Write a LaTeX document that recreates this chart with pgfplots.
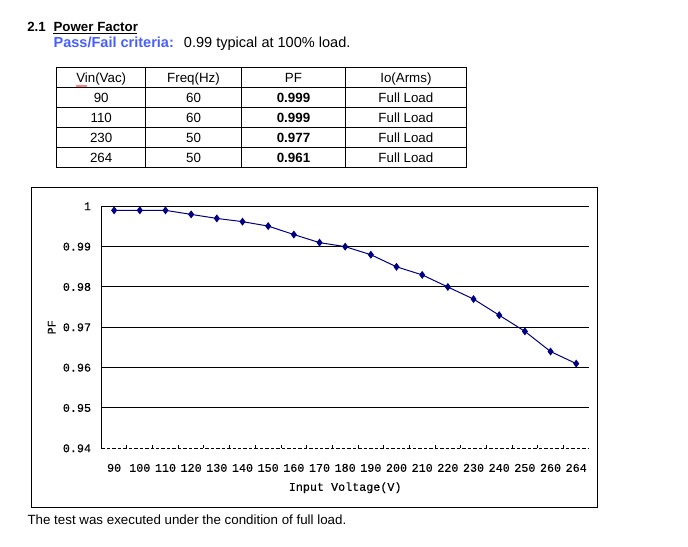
\documentclass[border=0pt]{standalone}
\usepackage{pgfplots}
\pgfplotsset{compat=1.18}
\usepackage{fontspec}
\setmainfont{Liberation Sans}
\newfontfamily\monofont[FakeBold=0.3]{Liberation Mono}
\newcommand\chartfont{\monofont\fontsize{8.8}{10}\selectfont}
\definecolor{navy}{RGB}{0,0,128}
\definecolor{passblue}{RGB}{72,96,250}
\pgfplotstableread{
x y
0 0.999
1 0.999
2 0.999
3 0.998
4 0.997
5 0.9962
6 0.9951
7 0.993
8 0.991
9 0.990
10 0.988
11 0.985
12 0.983
13 0.980
14 0.977
15 0.973
16 0.969
17 0.964
18 0.961
}\pfdata
\begin{document}
\begin{tikzpicture}
\begin{scope}[x=0.75pt,y=-0.75pt]
\useasboundingbox (0,0) rectangle (688,546);
\fill[white] (0,0) rectangle (688,546);
% heading
\node[anchor=base west, inner sep=0pt, font=\fontsize{10}{12}\selectfont\bfseries] at (27,31.7) {2.1};
\node[anchor=base west, inner sep=0pt, font=\fontsize{10}{12}\selectfont\bfseries] at (53.3,31.7) {Power Factor};
\draw[line width=0.75pt] (53.3,33.6) -- (136.7,33.6);
\node[anchor=base west, inner sep=0pt, font=\fontsize{10.9}{12}\selectfont\bfseries, text=passblue] at (53.3,47.7) {Pass/Fail criteria:};
\node[anchor=base west, inner sep=0pt, font=\fontsize{10.9}{12}\selectfont] at (183.7,47.7) {0.99 typical at 100\% load.};
% table
\begin{scope}[line width=0.75pt]
\draw (56.7,67.7) rectangle (466,167.7);
\foreach \yy in {87.7,107.7,127.7,147.7} \draw (56.7,\yy) -- (466,\yy);
\foreach \xx in {145.7,241.3,345.7} \draw (\xx,67.7) -- (\xx,167.7);
\end{scope}
\begin{scope}[every node/.style={anchor=base, inner sep=0pt, font=\fontsize{10}{12}\selectfont}]
\node at (101.2,82.4) {Vin(Vac)};
\node at (193.5,82.4) {Freq(Hz)};
\node at (293.5,82.4) {PF};
\node at (405.9,82.4) {Io(Arms)};
\node at (101.2,102.4) {90};  \node at (193.5,102.4) {60}; \node[font=\fontsize{10}{12}\selectfont\bfseries] at (293.5,102.4) {0.999}; \node at (405.9,102.4) {Full Load};
\node at (101.2,122.4) {110}; \node at (193.5,122.4) {60}; \node[font=\fontsize{10}{12}\selectfont\bfseries] at (293.5,122.4) {0.999}; \node at (405.9,122.4) {Full Load};
\node at (101.2,142.4) {230}; \node at (193.5,142.4) {50}; \node[font=\fontsize{10}{12}\selectfont\bfseries] at (293.5,142.4) {0.977}; \node at (405.9,142.4) {Full Load};
\node at (101.2,162.4) {264}; \node at (193.5,162.4) {50}; \node[font=\fontsize{10}{12}\selectfont\bfseries] at (293.5,162.4) {0.961}; \node at (405.9,162.4) {Full Load};
\end{scope}
\draw[red, line width=0.5pt] (76,85.5) -- (77,86.5) -- (78,85.5) -- (79,86.5) -- (80,85.5) -- (81,86.5) -- (82,85.5) -- (83,86.5) -- (84,85.5) -- (85,86.5) -- (86,85.5) -- (87,86.5);
% chart frame
\draw[line width=0.75pt] (31,187.5) rectangle (597.5,507.3);
% footer
\node[anchor=base west, inner sep=0pt, font=\fontsize{10}{12}\selectfont] at (27.3,524.3) {The test was executed under the condition of full load.};
\end{scope}
\begin{axis}[
  at={(75.98pt,-336.23pt)}, anchor=south west,
  scale only axis, width=365.8pt, height=181.5pt,
  xmin=-0.5, xmax=18.5, ymin=0.94, ymax=1,
  axis x line*=bottom, axis y line*=left,
  axis line style={black, line width=0.75pt},
  x axis line style={dash pattern=on 2.6pt off 1.5pt},
  xtick={0,...,18},
  xticklabels={90,100,110,120,130,140,150,160,170,180,190,200,210,220,230,240,250,260,264},
  minor xtick={0.5,1.5,...,17.5},
  major tick length=0pt, minor tick length=2.25pt, tick align=inside,
  minor tick style={black, line width=0.75pt},
  ytick={0.95,0.96,0.97,0.98,0.99,1},
  yticklabels={0.95,0.96,0.97,0.98,0.99,1},
  extra y ticks={0.94}, extra y tick labels={0.94},
  extra y tick style={grid=none},
  ymajorgrids, major grid style={black, line width=0.75pt},
  ticklabel style={font=\chartfont, text=black},
  xticklabel style={inner sep=0pt, anchor=north},
  xticklabel shift=11.5pt,
  yticklabel style={inner sep=0pt, anchor=east},
  yticklabel shift=7.5pt,
  xlabel={Input Voltage(V)},
  xlabel style={at={(axis description cs:0.5,-0.163)}, anchor=center, font=\chartfont},
  ylabel={PF},
  ylabel style={at={(axis description cs:-0.1017,0.5)}, anchor=center, font=\chartfont},
  clip=false,
]
\addplot[color=navy, line width=0.75pt, mark=diamond*, mark size=2.4pt, mark options={fill=navy, draw=navy}] table[x=x, y=y] {\pfdata};
\end{axis}
\end{tikzpicture}
\end{document}
